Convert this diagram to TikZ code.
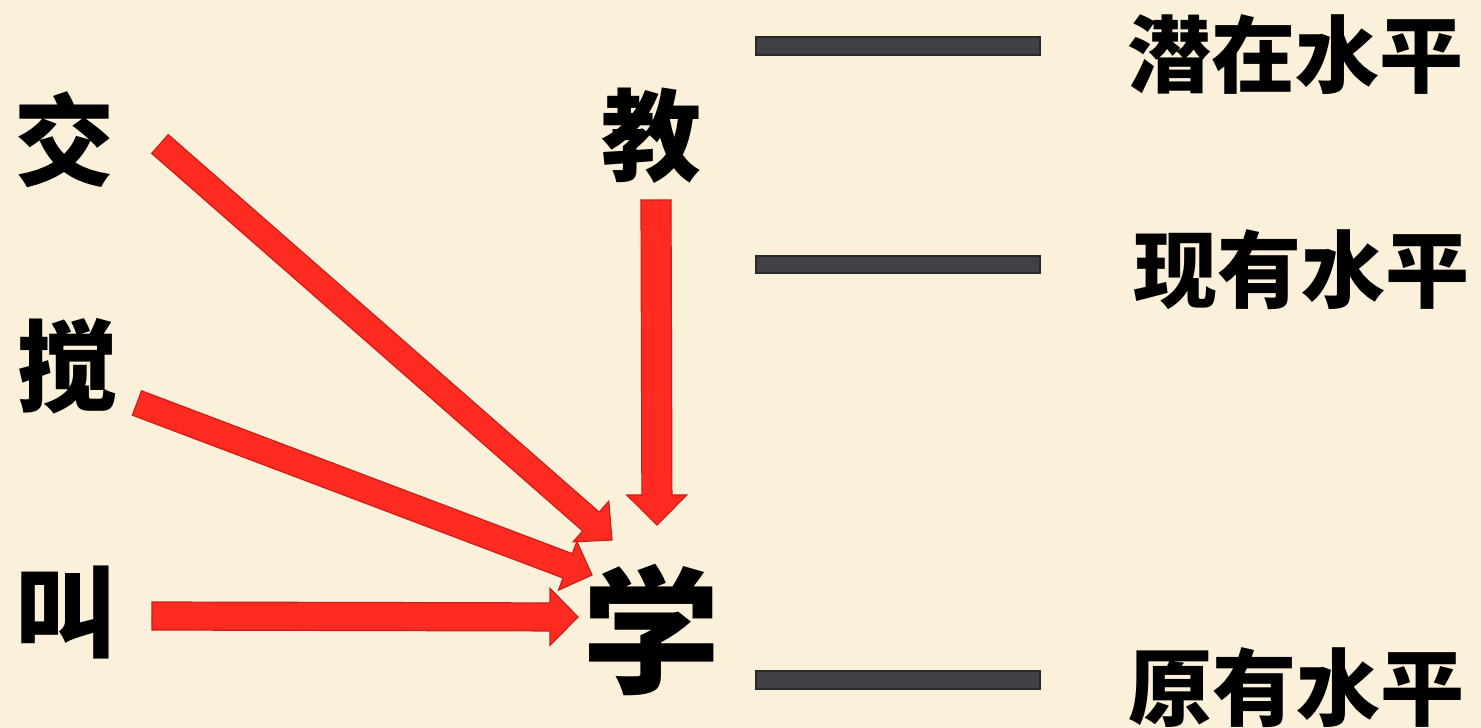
\documentclass[tikz,border=0pt]{standalone}
\usepackage{fontspec}
\newfontfamily\cjk{Noto Sans CJK SC}
\usetikzlibrary{calc}
\definecolor{bgc}{RGB}{251,241,218}
\definecolor{arrfill}{RGB}{255,42,32}
\definecolor{arrdraw}{RGB}{205,30,25}
\definecolor{barc}{RGB}{64,65,68}
\definecolor{bardraw}{RGB}{40,41,43}
\tikzset{
  arrowsty/.style={fill=arrfill,draw=arrdraw,line width=1.2pt,line join=miter},
  charnode/.style={font=\cjk\bfseries\fontsize{100}{100}\selectfont,inner sep=0pt,text=black},
  bignode/.style={font=\cjk\bfseries\fontsize{138}{138}\selectfont,inner sep=0pt,text=black},
  lvlnode/.style={font=\cjk\bfseries\fontsize{84}{84}\selectfont,inner sep=0pt,text=black},
  barsty/.style={fill=barc,draw=bardraw,line width=1.5pt}
}
\newcommand\blkarrow[5]{%
  \coordinate (bh) at ($(#2)!#5pt!(#1)$);
  \filldraw[arrowsty] ($(#1)!#3pt!90:(#2)$) -- ($(bh)!#3pt!90:(#2)$) -- ($(bh)!#4pt!90:(#2)$) -- (#2)
    -- ($(bh)!#4pt!-90:(#2)$) -- ($(bh)!#3pt!-90:(#2)$) -- ($(#1)!#3pt!-90:(#2)$) -- cycle;
}
\begin{document}
\begin{tikzpicture}[x=1pt,y=-1pt]
\fill[bgc] (0,0) rectangle (1481,728);
\useasboundingbox (0,0) rectangle (1481,728);
% characters
\node[charnode] (jiao) at (64,140) {交};
\node[charnode] (jiao2) at (67,366) {搅};
\node[charnode] (jiao3) at (65,612) {叫};
\node[charnode] (teach) at (651,136) {教};
\node[bignode] (learn) at (651,630) {学};
% level labels
\node[lvlnode] (l1) at (1295,55) {潜在水平};
\node[lvlnode] (l2) at (1301,270) {现有水平};
\node[lvlnode] (l3) at (1296,688) {原有水平};
% bars
\filldraw[barsty] (756,37) rectangle (1040,55);
\filldraw[barsty] (756,256) rectangle (1040,273);
\filldraw[barsty] (756,671) rectangle (1040,689);
% arrow endpoints
\coordinate (a1s) at (160,144);
\coordinate (a1e) at (612,540);
\coordinate (a2s) at (137,403);
\coordinate (a2e) at (592,575);
\coordinate (a3s) at (152,616);
\coordinate (a3e) at (578,617);
\coordinate (a4s) at (656,200);
\coordinate (a4e) at (657,525);
\blkarrow{a1s}{a1e}{12.5}{27}{28}
\blkarrow{a2s}{a2e}{13}{26}{26}
\blkarrow{a3s}{a3e}{14}{28.5}{28}
\blkarrow{a4s}{a4e}{15}{30}{30}
\end{tikzpicture}
\end{document}
